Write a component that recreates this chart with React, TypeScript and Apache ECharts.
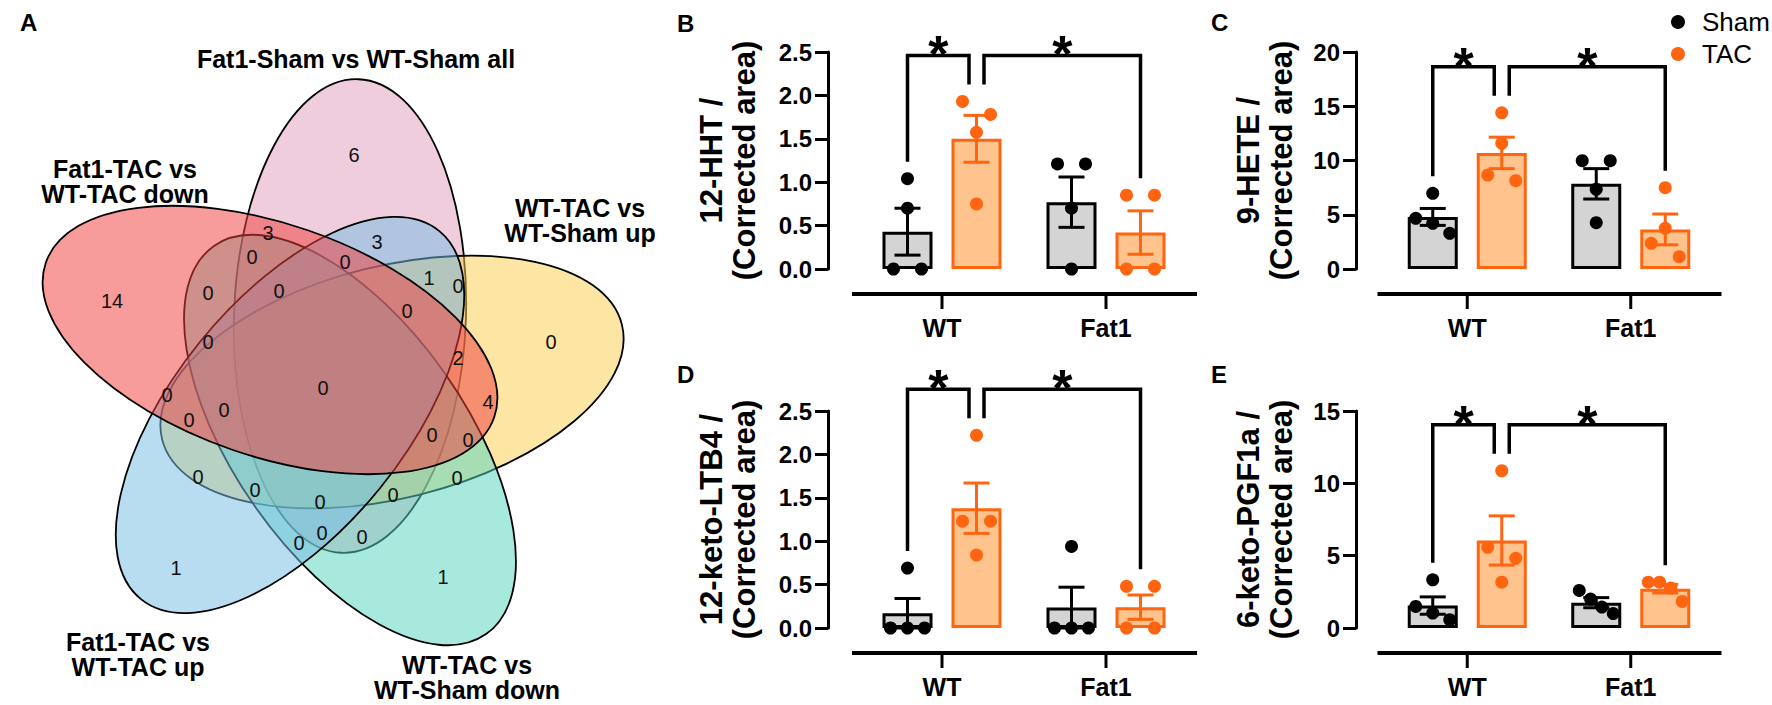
import React, { useEffect, useRef } from "react";
import * as echarts from "echarts";

// ---------------- data ----------------
const GROUPS = ["WT", "Fat1"];
const SERIES_NAMES = ["Sham", "TAC"];

// Panel B: 12-HHT
const HHT_SHAM_MEAN = [0.43, 0.77];
const HHT_SHAM_SEM = [0.27, 0.29];
const HHT_SHAM_PTS = [[1.04, 0.7, 0, 0], [1.21, 1.21, 0.7, 0]];
const HHT_TAC_MEAN = [1.5, 0.42];
const HHT_TAC_SEM = [0.27, 0.25];
const HHT_TAC_PTS = [[1.93, 1.78, 1.575, 0.75], [0.85, 0.85, 0, 0]];

// Panel C: 9-HETE
const HETE_SHAM_MEAN = [4.8, 7.85];
const HETE_SHAM_SEM = [0.78, 1.4];
const HETE_SHAM_PTS = [[6.98, 4.67, 4.21, 3.29], [9.98, 9.98, 7.35, 4.27]];
const HETE_TAC_MEAN = [10.7, 3.65];
const HETE_TAC_SEM = [1.45, 1.42];
const HETE_TAC_PTS = [[14.4, 11.58, 8.66, 8.14], [7.49, 3.75, 2.37, 1.13]];

// Panel D: 12-keto-LTB4
const LTB4_SHAM_MEAN = [0.17, 0.235];
const LTB4_SHAM_SEM = [0.17, 0.235];
const LTB4_SHAM_PTS = [[0.69, 0, 0, 0], [0.94, 0, 0, 0]];
const LTB4_TAC_MEAN = [1.38, 0.24];
const LTB4_TAC_SEM = [0.29, 0.14];
const LTB4_TAC_PTS = [[2.22, 1.23, 1.23, 0.84], [0.48, 0.48, 0, 0]];

// Panel E: 6-keto-PGF1a
const PGF_SHAM_MEAN = [1.55, 1.75];
const PGF_SHAM_SEM = [0.6, 0.35];
const PGF_SHAM_PTS = [[3.33, 1.49, 1.03, 0.57], [2.6, 2.0, 1.45, 1.0]];
const PGF_TAC_MEAN = [6.05, 2.72];
const PGF_TAC_SEM = [1.7, 0.3];
const PGF_TAC_PTS = [[10.87, 5.58, 4.82, 3.17], [3.17, 3.17, 2.76, 1.84]];

// significance comparisons: [group1, series1, group2, series2]
const COMPARISONS = [[0, 0, 0, 1], [0, 1, 1, 1]];
const SIG_LABEL = "*";

// Venn
const VENN_SET_LABELS = [
  "Fat1-Sham vs WT-Sham all",
  "WT-TAC vs\nWT-Sham up",
  "WT-TAC vs\nWT-Sham down",
  "Fat1-TAC vs\nWT-TAC up",
  "Fat1-TAC vs\nWT-TAC down",
];
const VENN_COUNTS = [6, 3, 3, 0, 0, 1, 0, 14, 0, 0, 0, 0, 0, 2, 0, 0, 4, 0, 0, 0, 0, 0, 0, 0, 0, 0, 0, 0, 0, 1, 1];

// ---------------- layout / style ----------------
const FONT = 'Arial, "Liberation Sans", Helvetica, sans-serif';
const ORANGE = "#ff6511";
const SHAM_FILL = "#d4d4d4";
const TAC_FILL = "#ffc48e";
const BAR_W = 50;
const BAR_GAP = 0.38;
const BAR_STEP = BAR_W * (1 + BAR_GAP);
const DOT_R = 6.5;
const X_AXIS_OFFSET = 25;

const PANELS = [
  { title: "12-HHT /\n(Corrected area)", max: 2.5, interval: 0.5, dec: 1,
    mean: [HHT_SHAM_MEAN, HHT_TAC_MEAN], sem: [HHT_SHAM_SEM, HHT_TAC_SEM], pts: [HHT_SHAM_PTS, HHT_TAC_PTS] },
  { title: "9-HETE /\n(Corrected area)", max: 20, interval: 5, dec: 0,
    mean: [HETE_SHAM_MEAN, HETE_TAC_MEAN], sem: [HETE_SHAM_SEM, HETE_TAC_SEM], pts: [HETE_SHAM_PTS, HETE_TAC_PTS] },
  { title: "12-keto-LTB4 /\n(Corrected area)", max: 2.5, interval: 0.5, dec: 1,
    mean: [LTB4_SHAM_MEAN, LTB4_TAC_MEAN], sem: [LTB4_SHAM_SEM, LTB4_TAC_SEM], pts: [LTB4_SHAM_PTS, LTB4_TAC_PTS] },
  { title: "6-keto-PGF1a /\n(Corrected area)", max: 15, interval: 5, dec: 0,
    mean: [PGF_SHAM_MEAN, PGF_TAC_MEAN], sem: [PGF_SHAM_SEM, PGF_TAC_SEM], pts: [PGF_SHAM_PTS, PGF_TAC_PTS] },
];

const LAYOUT = [
  { left: 860, top: 52, width: 328, height: 217, yOffset: 32, nameGap: 67 },
  { left: 1385.5, top: 52, width: 327, height: 217, yOffset: 29.5, nameGap: 58 },
  { left: 860, top: 411, width: 328, height: 217, yOffset: 32, nameGap: 67 },
  { left: 1385.5, top: 411, width: 327, height: 217, yOffset: 29.5, nameGap: 58 },
];

const PANEL_LETTERS = [
  { t: "A", x: 20, y: 22 },
  { t: "B", x: 677, y: 23 },
  { t: "C", x: 1211, y: 22 },
  { t: "D", x: 677, y: 374 },
  { t: "E", x: 1211, y: 374 },
];

// Venn ellipse geometry (same order as VENN_SET_LABELS)
const VENN_A = 237;
const VENN_B = 116;
const VENN_ELLIPSES = [
  { cx: 350, cy: 316, tip: -88, color: [226, 160, 188] },
  { cx: 392, cy: 382, tip: -14, color: [251, 206, 80] },
  { cx: 350, cy: 440, tip: 55, color: [88, 212, 192] },
  { cx: 290, cy: 415, tip: 129, color: [118, 190, 228] },
  { cx: 270, cy: 340, tip: 199, color: [240, 64, 64] },
];
const VENN_LABEL_POS = [[356, 59], [580, 220], [467, 677], [138, 654], [125, 181]];
const VENN_COUNT_POS = [
  [354, 155], [268, 233], [377, 242], [252, 257], [345, 262], [429, 278], [458, 286],
  [112, 301], [208, 293], [279, 291], [407, 311], [208, 342], [551, 342], [458, 358],
  [323, 388], [167, 395], [488, 402], [224, 410], [189, 420], [432, 435], [468, 440],
  [198, 477], [457, 478], [255, 490], [393, 495], [320, 502], [322, 533], [362, 537],
  [299, 543], [176, 568], [443, 577],
];

function barX(api: any, g: number, s: number) {
  return api.coord([g, 0])[0] + (s - 0.5) * BAR_STEP;
}

function buildOption() {
  const series: any[] = [];
  PANELS.forEach((p, i) => {
    [0, 1].forEach((s) => {
      series.push({
        type: "bar",
        name: SERIES_NAMES[s],
        xAxisIndex: i,
        yAxisIndex: i,
        data: p.mean[s],
        barWidth: BAR_W,
        barGap: `${BAR_GAP * 100}%`,
        itemStyle: {
          color: s === 0 ? SHAM_FILL : TAC_FILL,
          borderColor: s === 0 ? "#000" : ORANGE,
          borderWidth: 3,
        },
        z: 2,
      });
    });
    // category axis line + ticks, detached below the plot (GraphPad style)
    series.push({
      type: "custom",
      xAxisIndex: i,
      yAxisIndex: i,
      z: 6,
      clip: false,
      silent: true,
      encode: { x: 0, y: 1 },
      data: GROUPS.map((_, g) => [g, 0]),
      renderItem: (params: any, api: any) => {
        const cs = params.coordSys;
        const g = api.value(0);
        const y0 = cs.y + cs.height + X_AXIS_OFFSET;
        const x = api.coord([g, 0])[0];
        const children: any[] = [
          { type: "rect", shape: { x: x - 1.5, y: y0, width: 3, height: 15 }, style: { fill: "#000" } },
        ];
        if (params.dataIndex === 0) {
          children.push({
            type: "rect",
            shape: { x: cs.x - 8, y: y0 - 2, width: cs.width + 17, height: 4 },
            style: { fill: "#000" },
          });
        }
        return { type: "group", children };
      },
    });
    // error bars (mean ± SEM)
    const errData: number[][] = [];
    [0, 1].forEach((s) => GROUPS.forEach((_, g) => errData.push([g, s, p.mean[s][g], p.sem[s][g]])));
    series.push({
      type: "custom",
      xAxisIndex: i,
      yAxisIndex: i,
      z: 3,
      clip: false,
      encode: { x: 0, y: 2 },
      data: errData,
      renderItem: (params: any, api: any) => {
        const g = api.value(0), s = api.value(1), m = api.value(2), e = api.value(3);
        const cx = barX(api, g, s);
        const yT = api.coord([g, m + e])[1];
        const yB = api.coord([g, Math.max(0, m - e)])[1];
        const style = { stroke: s === 0 ? "#000" : ORANGE, lineWidth: 3, fill: null };
        return {
          type: "group",
          children: [
            { type: "line", shape: { x1: cx, y1: yT, x2: cx, y2: yB }, style },
            { type: "line", shape: { x1: cx - 13, y1: yT, x2: cx + 13, y2: yT }, style },
            { type: "line", shape: { x1: cx - 13, y1: yB, x2: cx + 13, y2: yB }, style },
          ],
        };
      },
    });
    // individual points, spread horizontally when they overlap
    const dotData: number[][] = [];
    [0, 1].forEach((s) => GROUPS.forEach((_, g) => p.pts[s][g].forEach((v, k) => dotData.push([g, s, k, v]))));
    series.push({
      type: "custom",
      xAxisIndex: i,
      yAxisIndex: i,
      z: 4,
      clip: false,
      encode: { x: 0, y: 3 },
      data: dotData,
      renderItem: (params: any, api: any) => {
        const g = api.value(0), s = api.value(1), k = api.value(2);
        const vals: number[] = p.pts[s][g];
        const cx = barX(api, g, s);
        const ys = vals.map((v) => api.coord([g, v])[1]);
        const order = vals.map((_, idx) => idx).sort((a, b) => ys[a] - ys[b]);
        const rows: number[][] = [];
        order.forEach((idx) => {
          const last = rows[rows.length - 1];
          if (last && ys[idx] - ys[last[last.length - 1]] < DOT_R * 2.1) last.push(idx);
          else rows.push([idx]);
        });
        const row = rows.find((r) => r.includes(k))!;
        const n = row.length;
        const j = row.indexOf(k);
        const half = n === 1 ? 0 : n === 2 ? BAR_W * 0.28 : BAR_W * 0.34;
        const dx = n === 1 ? 0 : -half + (2 * half * j) / (n - 1);
        return {
          type: "circle",
          shape: { cx: cx + dx, cy: ys[k], r: DOT_R },
          style: { fill: s === 0 ? "#000" : ORANGE },
        };
      },
    });
    // significance brackets
    series.push({
      type: "custom",
      xAxisIndex: i,
      yAxisIndex: i,
      z: 5,
      clip: false,
      encode: { x: 0, y: 1 },
      data: COMPARISONS,
      renderItem: (params: any, api: any) => {
        const legY = (g: number, s: number) => {
          const top = Math.max(...p.pts[s][g], p.mean[s][g] + p.sem[s][g]);
          return api.coord([g, top])[1] - 17;
        };
        let minLeg = Infinity;
        COMPARISONS.forEach((c) => {
          minLeg = Math.min(minLeg, legY(c[0], c[1]), legY(c[2], c[3]));
        });
        const topY = minLeg - 29;
        const c = COMPARISONS[params.dataIndex];
        const sharedLeft = COMPARISONS.some((o) => o !== c && o[2] === c[0] && o[3] === c[1]);
        const sharedRight = COMPARISONS.some((o) => o !== c && o[0] === c[2] && o[1] === c[3]);
        const x1 = barX(api, c[0], c[1]) + (sharedLeft ? 7.5 : 0);
        const x2 = barX(api, c[2], c[3]) - (sharedRight ? 7.5 : 0);
        return {
          type: "group",
          children: [
            {
              type: "polyline",
              shape: { points: [[x1, legY(c[0], c[1])], [x1, topY], [x2, topY], [x2, legY(c[2], c[3])]] },
              style: { stroke: "#000", lineWidth: 3.5, fill: null, lineJoin: "miter" },
            },
            {
              type: "text",
              x: (x1 + x2) / 2,
              y: topY - 1,
              style: {
                text: SIG_LABEL, fontSize: 52, fontWeight: "bold", fontFamily: FONT,
                fill: "#000", align: "center", verticalAlign: "middle",
              },
            },
          ],
        };
      },
    });
  });

  const graphic: any[] = [];
  VENN_ELLIPSES.forEach((e) => {
    graphic.push({
      type: "ellipse",
      x: e.cx,
      y: e.cy,
      rotation: (-e.tip * Math.PI) / 180,
      shape: { cx: 0, cy: 0, rx: VENN_A, ry: VENN_B },
      style: {
        fill: `rgba(${e.color[0]},${e.color[1]},${e.color[2]},0.52)`,
        stroke: "#000",
        lineWidth: 1.8,
      },
      silent: true,
    });
  });
  VENN_COUNTS.forEach((c, idx) => {
    graphic.push({
      type: "text",
      x: VENN_COUNT_POS[idx][0],
      y: VENN_COUNT_POS[idx][1],
      style: { text: String(c), fontSize: 20, fontFamily: FONT, fill: "#111", align: "center", verticalAlign: "middle" },
      silent: true,
    });
  });
  VENN_SET_LABELS.forEach((t, idx) => {
    graphic.push({
      type: "text",
      x: VENN_LABEL_POS[idx][0],
      y: VENN_LABEL_POS[idx][1],
      style: {
        text: t, fontSize: 25, fontWeight: "bold", fontFamily: FONT, fill: "#000",
        align: "center", verticalAlign: "middle", lineHeight: 25,
      },
      silent: true,
    });
  });
  PANEL_LETTERS.forEach((l) => {
    graphic.push({
      type: "text",
      x: l.x,
      y: l.y,
      style: { text: l.t, fontSize: 24, fontWeight: "bold", fontFamily: FONT, fill: "#000", align: "left", verticalAlign: "middle" },
      silent: true,
    });
  });

  return {
    animation: false,
    backgroundColor: "#fff",
    textStyle: { fontFamily: FONT },
    legend: {
      data: [
        { name: "Sham", itemStyle: { color: "#000", borderWidth: 0 } },
        { name: "TAC", itemStyle: { color: ORANGE, borderWidth: 0 } },
      ],
      orient: "vertical",
      left: 1666,
      top: 4,
      icon: "circle",
      itemWidth: 14,
      itemHeight: 14,
      itemGap: 6,
      selectedMode: false,
      textStyle: { fontSize: 26, color: "#000", lineHeight: 26, padding: [0, 0, 0, 12] },
    },
    grid: LAYOUT.map((l) => ({ left: l.left, top: l.top, width: l.width, height: l.height })),
    xAxis: PANELS.map((p, i) => ({
      type: "category",
      gridIndex: i,
      data: GROUPS,
      offset: X_AXIS_OFFSET,
      position: "bottom",
      axisLine: { show: false, onZero: false },
      axisTick: { show: false },
      axisLabel: { fontSize: 25, fontWeight: "bold", color: "#000", margin: 21, fontFamily: FONT },
      splitLine: { show: false },
    })),
    yAxis: PANELS.map((p, i) => ({
      type: "value",
      gridIndex: i,
      min: 0,
      max: p.max,
      interval: p.interval,
      offset: LAYOUT[i].yOffset,
      axisLine: { show: true, onZero: false, lineStyle: { color: "#000", width: 3 } },
      axisTick: { show: true, length: 13, lineStyle: { color: "#000", width: 3 } },
      axisLabel: {
        fontSize: 24, fontWeight: "bold", color: "#000", margin: 16, fontFamily: FONT,
        formatter: (v: number) => v.toFixed(p.dec),
      },
      splitLine: { show: false },
      name: p.title,
      nameLocation: "middle",
      nameRotate: 90,
      nameGap: LAYOUT[i].nameGap,
      nameTextStyle: { fontSize: 31, fontWeight: "bold", color: "#000", lineHeight: 33, fontFamily: FONT },
    })),
    series,
    graphic,
  };
}

export default function App() {
  const ref = useRef<HTMLDivElement>(null);
  useEffect(() => {
    if (!ref.current) return;
    const chart = echarts.init(ref.current, undefined, { renderer: "svg" });
    chart.setOption(buildOption() as any);
    return () => chart.dispose();
  }, []);
  return (
    <div
      ref={ref}
      style={{ position: "absolute", left: 0, top: 0, width: 1772, height: 705, background: "#fff" }}
    />
  );
}
